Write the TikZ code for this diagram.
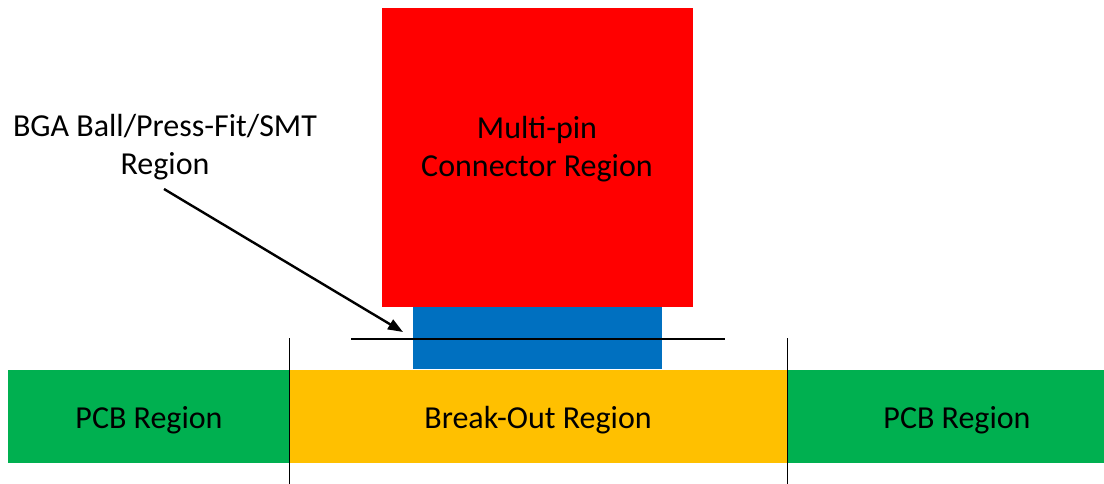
\documentclass[tikz,border=0pt]{standalone}
\usepackage{fontspec}
\setmainfont{Carlito}
\usetikzlibrary{arrows.meta}
\definecolor{conred}{HTML}{FF0000}
\definecolor{ballblue}{HTML}{0070C0}
\definecolor{pcbgreen}{HTML}{00B050}
\definecolor{breakorange}{HTML}{FFC000}
\tikzset{
  region/.style={draw=none, inner sep=0pt, outer sep=0pt, anchor=north west},
  label/.style={inner sep=0pt, font=\fontsize{32}{37.5}\selectfont, text=black, align=center},
  rule/.style={draw=black, line width=1.8pt},
  pointer/.style={draw=black, line width=2.4pt, -{Triangle[length=15pt,width=11pt]}}
}
\begin{document}
\begin{tikzpicture}[x=1pt, y=-1pt]
  \useasboundingbox (0,0) rectangle (1104,484);
  % connector body and its pin field
  \node[region, fill=conred, minimum width=311pt, minimum height=299pt] (conn) at (382,8) {};
  \node[region, fill=ballblue, minimum width=249pt, minimum height=62pt] (balls) at (413,307) {};
  % board regions
  \node[region, fill=pcbgreen, minimum width=282pt, minimum height=93pt] (pcbl) at (8,370) {};
  \node[region, fill=breakorange, minimum width=497pt, minimum height=93pt] (brk) at (290,370) {};
  \node[region, fill=pcbgreen, minimum width=317pt, minimum height=93pt] (pcbr) at (787,370) {};
  % region labels
  \node[label] (connlbl) at (537,149) {Multi-pin\\Connector Region};
  \node[label] (pcbllbl) at (149,420) {PCB Region};
  \node[label] (brklbl) at (538,420) {Break-Out Region};
  \node[label] (pcbrlbl) at (957,420) {PCB Region};
  % region boundaries
  \coordinate (vlt) at (289.5,338);
  \coordinate (vlb) at (289.5,484);
  \coordinate (vrt) at (787.5,338);
  \coordinate (vrb) at (787.5,484);
  \draw[rule] (vlt) -- (vlb);
  \draw[rule] (vrt) -- (vrb);
  \coordinate (hl) at (351,339);
  \coordinate (hr) at (725,339);
  \draw[rule] (hl) -- (hr);
  % callout
  \node[label] (bga) at (165,147) {BGA Ball/Press-Fit/SMT\\Region};
  \coordinate (from) at (164,189);
  \coordinate (tip) at (403,332);
  \draw[pointer] (from) -- (tip);
\end{tikzpicture}
\end{document}
